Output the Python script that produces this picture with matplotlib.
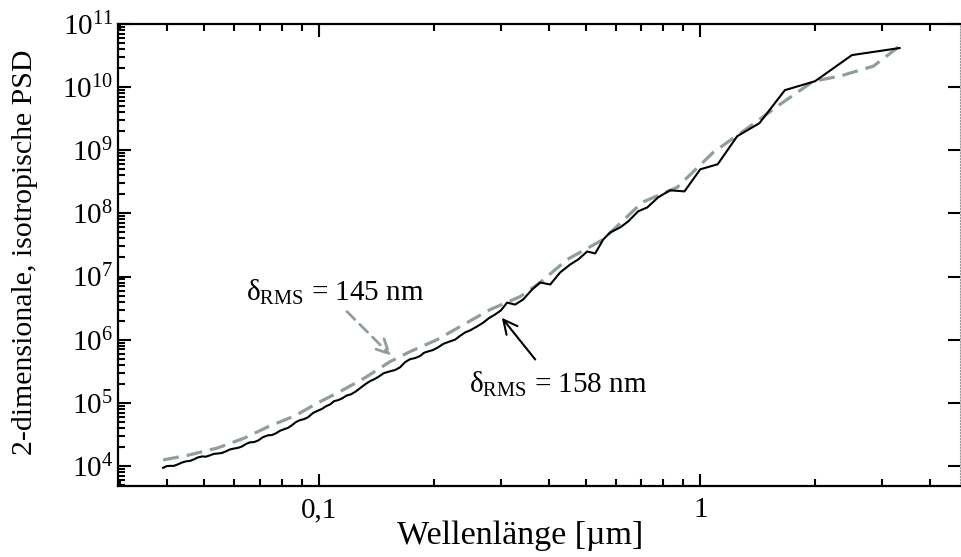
import numpy as np
import matplotlib
matplotlib.use("Agg")
import matplotlib.pyplot as plt
from matplotlib.ticker import FixedLocator, FuncFormatter, LogLocator, NullFormatter

# black solid curve (delta_RMS = 158 nm)
wl_black = [0.0390, 0.0398, 0.0406, 0.0416, 0.0427, 0.0437, 0.0448, 0.0459, 0.0470,
            0.0481, 0.0493, 0.0505, 0.0518, 0.0530, 0.0543, 0.0556, 0.0570, 0.0584,
            0.0598, 0.0613, 0.0628, 0.0643, 0.0659, 0.0675, 0.0692, 0.0713, 0.0735,
            0.0753, 0.0771, 0.0790, 0.0809, 0.0829, 0.0849, 0.0870, 0.0891, 0.0913,
            0.0936, 0.0965, 0.0994, 0.1018, 0.1043, 0.1069, 0.1095, 0.1122, 0.1149,
            0.1181, 0.1213, 0.1247, 0.1281, 0.1320, 0.1361, 0.1394, 0.1428, 0.1480,
            0.1536, 0.1584, 0.1632, 0.1682, 0.1733, 0.1786, 0.1841, 0.1886, 0.1932,
            0.1985, 0.2041, 0.2122, 0.2207, 0.2275, 0.2345, 0.2417, 0.2490, 0.2590,
            0.2694, 0.2793, 0.2896, 0.3000, 0.3114, 0.3268, 0.3430, 0.3623, 0.3802,
            0.4041, 0.4290, 0.4558, 0.4784, 0.5051, 0.5302, 0.5565, 0.5804, 0.6166,
            0.6471, 0.6874, 0.7259, 0.7757, 0.8333, 0.9091, 1.0, 1.111, 1.25, 1.429,
            1.667, 2.0, 2.5, 3.333]
psd_black = [9.3e3, 9.9e3, 1.0e4, 1.0e4, 1.06e4, 1.13e4, 1.18e4, 1.20e4, 1.27e4,
             1.36e4, 1.41e4, 1.40e4, 1.47e4, 1.55e4, 1.57e4, 1.60e4, 1.70e4, 1.82e4,
             1.88e4, 1.93e4, 2.03e4, 2.22e4, 2.36e4, 2.38e4, 2.52e4, 2.85e4, 3.05e4,
             3.08e4, 3.28e4, 3.60e4, 3.80e4, 4.00e4, 4.40e4, 4.95e4, 5.30e4, 5.50e4,
             5.90e4, 6.90e4, 7.50e4, 8.00e4, 8.80e4, 9.40e4, 1.06e5, 1.10e5, 1.17e5,
             1.30e5, 1.36e5, 1.50e5, 1.70e5, 1.95e5, 2.20e5, 2.35e5, 2.55e5, 2.95e5,
             3.15e5, 3.30e5, 3.65e5, 4.40e5, 4.90e5, 5.10e5, 5.50e5, 6.20e5, 6.50e5,
             6.80e5, 7.40e5, 8.60e5, 9.40e5, 1.00e6, 1.15e6, 1.30e6, 1.40e6, 1.60e6,
             1.85e6, 2.20e6, 2.50e6, 2.90e6, 3.86e6, 3.59e6, 4.32e6, 6.22e6, 8.04e6,
             7.47e6, 1.16e7, 1.55e7, 1.86e7, 2.49e7, 2.32e7, 3.86e7, 4.99e7, 6.00e7,
             7.46e7, 1.08e8, 1.24e8, 1.80e8, 2.32e8, 2.23e8, 4.99e8, 6.00e8, 1.67e9,
             2.68e9, 8.96e9, 1.24e10, 3.22e10, 4.16e10]

# grey dashed curve (delta_RMS = 145 nm)
wl_grey = [0.0390, 0.0459, 0.0543, 0.0639, 0.0735, 0.0865, 0.0994, 0.1135, 0.1320,
           0.1536, 0.1733, 0.2041, 0.2345, 0.2811, 0.3370, 0.3802, 0.4477, 0.5565,
           0.7044, 0.8700, 1.082, 1.353, 1.622, 1.980, 2.331, 2.845, 3.310]
psd_grey = [1.24e4, 1.50e4, 1.93e4, 2.78e4, 4.16e4, 6.22e4, 1.0e5, 1.50e5, 2.49e5,
            4.48e5, 6.45e5, 1.0e6, 1.61e6, 2.99e6, 4.81e6, 8.04e6, 1.86e7, 3.86e7,
            1.50e8, 2.59e8, 9.29e8, 2.41e9, 5.37e9, 1.24e10, 1.50e10, 2.15e10, 4.32e10]

x_ticks = [0.1, 1]
x_ticklabels = ["0,1", "1"]

grey = "#8fa09c"

plt.rcParams["font.family"] = ["Liberation Serif", "DejaVu Serif"]
plt.rcParams["mathtext.fontset"] = "custom"
plt.rcParams["mathtext.rm"] = "Liberation Serif"
plt.rcParams["mathtext.it"] = "Liberation Serif:italic"

fig = plt.figure(figsize=(9.61, 5.57), dpi=100)
ax = fig.add_axes([118 / 961, 1 - 486 / 557, (960 - 118) / 961, (486 - 24) / 557])

ax.plot(wl_black, psd_black, color="black", lw=1.5, zorder=3)
ax.plot(wl_grey, psd_grey, color=grey, lw=2.3, dashes=(5, 2.5), zorder=2)

ax.set_xscale("log")
ax.set_yscale("log")
ax.set_xlim(0.0297, 4.8)
ax.set_ylim(4.8e3, 1e11)

ax.xaxis.set_major_locator(FixedLocator(x_ticks))
ax.xaxis.set_major_formatter(FuncFormatter(lambda v, p: x_ticklabels[x_ticks.index(v)] if v in x_ticks else ""))
ax.xaxis.set_minor_locator(LogLocator(base=10, subs=np.arange(2, 10)))
ax.xaxis.set_minor_formatter(NullFormatter())
ax.yaxis.set_major_locator(LogLocator(base=10, numticks=20))
ax.yaxis.set_major_formatter(FuncFormatter(lambda v, p: r"$\mathregular{10^{%d}}$" % round(np.log10(v))))
ax.yaxis.set_minor_locator(LogLocator(base=10, subs=np.arange(2, 10), numticks=20))
ax.yaxis.set_minor_formatter(NullFormatter())

ax.tick_params(which="both", direction="in", top=True, right=True, labelsize=21, width=1.5)
ax.tick_params(which="major", length=9)
ax.tick_params(which="minor", length=5, right=False)
ax.tick_params(axis="x", pad=8)

for s in ["left", "bottom", "top"]:
    ax.spines[s].set_linewidth(1.6)
ax.spines["right"].set_linewidth(0.8)
ax.spines["right"].set_color("#999999")
ax.spines["right"].set_linestyle(":")

ax.set_xlabel("Wellenlänge [µm]", fontsize=24.5, labelpad=0)
ax.xaxis.set_label_coords(0.477, -0.075, transform=ax.transAxes)
ax.xaxis.label.set_va("top")
ax.set_ylabel("2-dimensionale, isotropische PSD", fontsize=21.5)
ax.yaxis.set_label_coords(-0.095, 0.505)

# annotations
ax.text(0.110, 5.57e6, r"$\mathrm{δ_{RMS}}$ = 145 nm", fontsize=21, ha="center", va="center")
ax.annotate("", xy=(0.1564, 5.18e5), xytext=(0.1170, 2.99e6),
            arrowprops=dict(arrowstyle="->", color=grey, lw=2, linestyle=(0, (4, 2.5)),
                            mutation_scale=25))
ax.text(0.424, 1.93e5, r"$\mathrm{δ_{RMS}}$ = 158 nm", fontsize=21, ha="center", va="center")
ax.annotate("", xy=(0.2985, 2.40e6), xytext=(0.373, 4.48e5),
            arrowprops=dict(arrowstyle="->", color="black", lw=1.5, mutation_scale=25))

fig.savefig("out.png", dpi=100)
